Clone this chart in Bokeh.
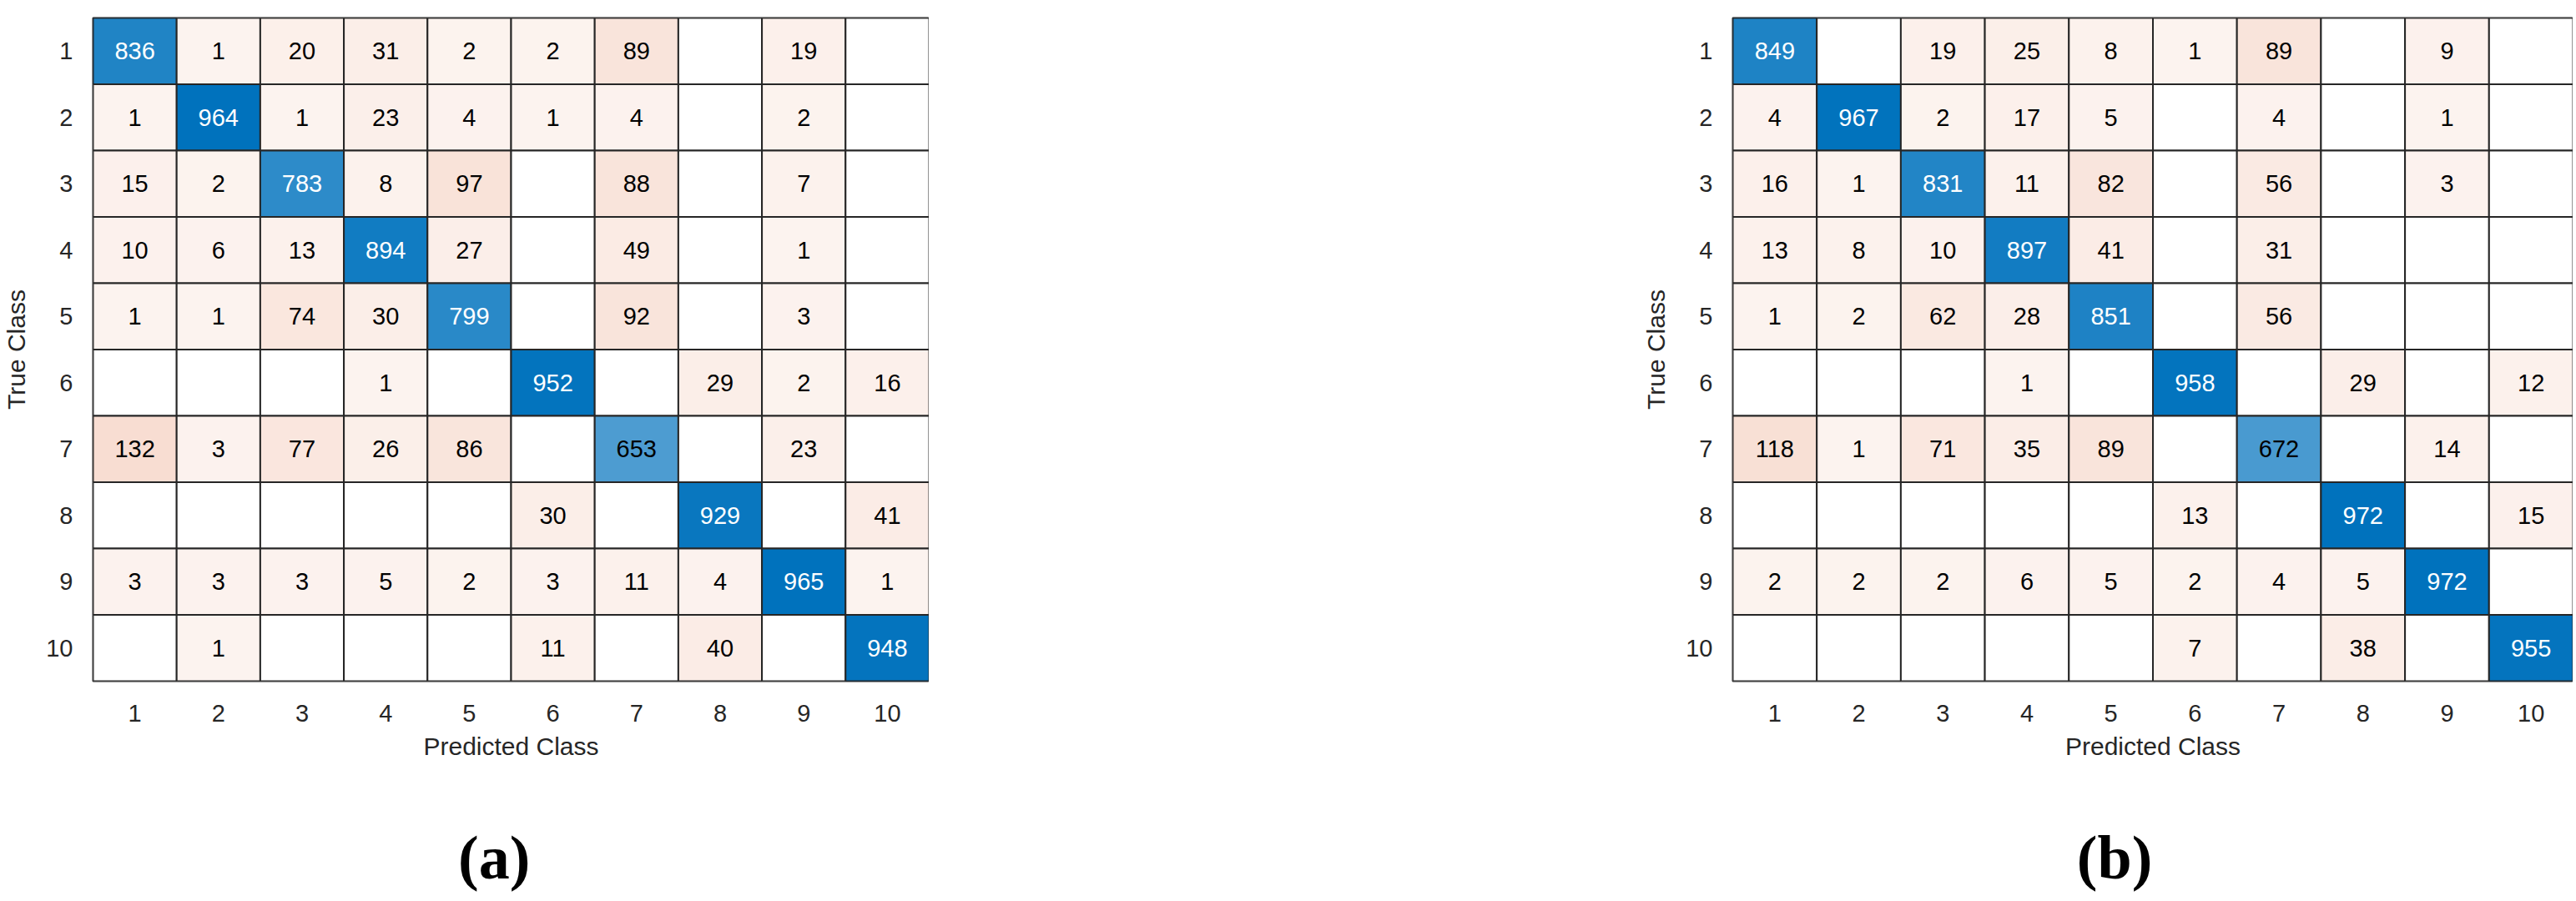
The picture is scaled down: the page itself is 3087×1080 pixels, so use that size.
from bokeh.plotting import figure
from bokeh.models import ColumnDataSource, Label, Spacer, FactorRange, Range1d
from bokeh.layouts import row, column
from bokeh.core.properties import value
from bokeh.embed import file_html
from bokeh.resources import INLINE

classes = ["1", "2", "3", "4", "5", "6", "7", "8", "9", "10"]

# rows = true class, columns = predicted class (0 = empty cell)
cm_a = [
    [836, 1, 20, 31, 2, 2, 89, 0, 19, 0],
    [1, 964, 1, 23, 4, 1, 4, 0, 2, 0],
    [15, 2, 783, 8, 97, 0, 88, 0, 7, 0],
    [10, 6, 13, 894, 27, 0, 49, 0, 1, 0],
    [1, 1, 74, 30, 799, 0, 92, 0, 3, 0],
    [0, 0, 0, 1, 0, 952, 0, 29, 2, 16],
    [132, 3, 77, 26, 86, 0, 653, 0, 23, 0],
    [0, 0, 0, 0, 0, 30, 0, 929, 0, 41],
    [3, 3, 3, 5, 2, 3, 11, 4, 965, 1],
    [0, 1, 0, 0, 0, 11, 0, 40, 0, 948],
]

cm_b = [
    [849, 0, 19, 25, 8, 1, 89, 0, 9, 0],
    [4, 967, 2, 17, 5, 0, 4, 0, 1, 0],
    [16, 1, 831, 11, 82, 0, 56, 0, 3, 0],
    [13, 8, 10, 897, 41, 0, 31, 0, 0, 0],
    [1, 2, 62, 28, 851, 0, 56, 0, 0, 0],
    [0, 0, 0, 1, 0, 958, 0, 29, 0, 12],
    [118, 1, 71, 35, 89, 0, 672, 0, 14, 0],
    [0, 0, 0, 0, 0, 13, 0, 972, 0, 15],
    [2, 2, 2, 6, 5, 2, 4, 5, 972, 0],
    [0, 0, 0, 0, 0, 7, 0, 38, 0, 955],
]

panel_labels = ["(a)", "(b)"]

DIAG = (0, 114, 189)
OFF = (217, 83, 25)
FONT = "Liberation Sans"
GRAY = "#262626"

MAT_H = 926
LAB_H = 1080 - MAT_H


def blend(base, a):
    r, g, b = [round(255 * (1 - a) + c * a) for c in base]
    return "#%02x%02x%02x" % (r, g, b)


def make_fig(cm, width):
    vmax = max(max(r) for r in cm)
    xs, ys, fills, texts, tcols = [], [], [], [], []
    for i, rowv in enumerate(cm):
        for j, v in enumerate(rowv):
            xs.append(classes[j])
            ys.append(classes[i])
            diag = i == j
            if v > 0:
                a = 0.07 + 0.93 * v / vmax
                fills.append(blend(DIAG if diag else OFF, a))
                texts.append(str(v))
                tcols.append("white" if (diag and a > 0.75) else "black")
            else:
                fills.append("white")
                texts.append("")
                tcols.append("black")
    src = ColumnDataSource(dict(x=xs, y=ys, fill=fills, text=texts, tcol=tcols))

    p = figure(
        width=width, height=MAT_H,
        x_range=FactorRange(*classes, range_padding=0),
        y_range=FactorRange(*list(reversed(classes)), range_padding=0),
        output_backend="svg", toolbar_location=None,
        min_border_left=102, min_border_right=0, min_border_top=21,
        min_border_bottom=MAT_H - 816,
    )
    p.rect(x="x", y="y", width=1, height=1, fill_color="fill",
           line_color=GRAY, line_width=2, source=src)
    p.text(x="x", y="y", text="text", text_color="tcol",
           text_align="center", text_baseline="middle",
           text_font=value(FONT), text_font_size="29px", source=src)

    p.grid.visible = False
    p.outline_line_color = GRAY
    p.outline_line_width = 2
    for ax in (p.xaxis[0], p.yaxis[0]):
        ax.axis_line_color = None
        ax.major_tick_line_color = None
        ax.minor_tick_line_color = None
        ax.major_label_text_font = FONT
        ax.major_label_text_font_size = "29px"
        ax.major_label_text_color = GRAY
        ax.axis_label_text_font = FONT
        ax.axis_label_text_font_size = "30px"
        ax.axis_label_text_font_style = "normal"
        ax.axis_label_text_color = GRAY
    p.xaxis.axis_label = "Predicted Class"
    p.yaxis.axis_label = "True Class"
    p.xaxis.major_label_standoff = 22
    p.xaxis.axis_label_standoff = 10
    p.yaxis.major_label_standoff = 18
    p.yaxis.axis_label_standoff = 16
    return p


def make_label(text, width, xfrac):
    q = figure(width=width, height=LAB_H, x_range=Range1d(0, 1),
               y_range=Range1d(0, 1), output_backend="svg",
               toolbar_location=None, min_border=0)
    q.axis.visible = False
    q.grid.visible = False
    q.outline_line_color = None
    q.add_layout(Label(x=xfrac, y=0.34, text=text, text_align="center",
                       text_baseline="middle", text_font="Liberation Serif",
                       text_font_size="74px", text_font_style="bold",
                       text_color="black"))
    return q


W1, W2 = 1113, 1118
p1 = make_fig(cm_a, W1)
p2 = make_fig(cm_b, W2)
l1 = make_label(panel_labels[0], W1, (581 - 47) / W1)
l2 = make_label(panel_labels[1], W2, (2541 - 1965 - 68) / W2)
layout = row(column(p1, l1), Spacer(width=852, height=10), column(p2, l2))

open("out.html", "w").write(file_html(layout, INLINE))
